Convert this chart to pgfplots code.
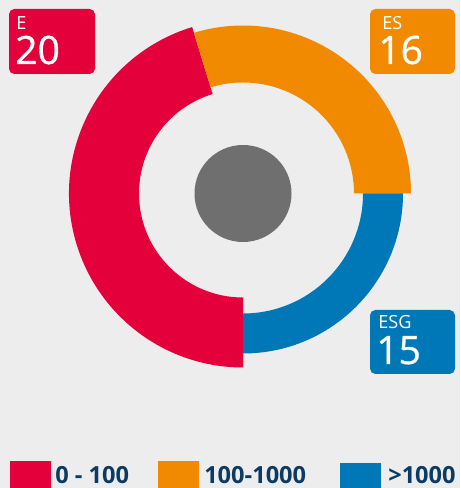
\documentclass[border=0pt]{standalone}
\usepackage{fontspec}
\setmainfont{Open Sans}
\usepackage{pgfplots}
\pgfplotsset{compat=1.18}
\definecolor{cE}{HTML}{E4003B}
\definecolor{cES}{HTML}{F18A00}
\definecolor{cESG}{HTML}{0078B8}
\definecolor{cHub}{HTML}{6F6F6F}
\definecolor{cBg}{HTML}{EDEDED}
\definecolor{cInk}{HTML}{0B3B62}

% one axis unit = one pixel of the reference
\def\px{0.75pt}
% ring segment: start angle, end angle, inner radius, outer radius, colour
\newcommand\ring[5]{%
  \fill[#5] (axis cs:243,294.5) ++(#1:{#4*\px})
    arc[start angle=#1, end angle=#2, radius={#4*\px}]
    -- ++({#2+180}:{(#4-#3)*\px})
    arc[start angle=#2, end angle=#1, radius={#3*\px}] -- cycle;}

\begin{document}
\begin{tikzpicture}
\begin{axis}[
  x=\px, y=\px,
  xmin=0, xmax=460, ymin=0, ymax=488,
  hide axis, clip=false,
]
\fill[cBg] (axis cs:0,0) rectangle (axis cs:460,488);

% segments (degrees): E 107..270, ES 0..107, ESG -90..0
\ring{107}{270}{104}{174}{cE}
\ring{0}{107}{111}{168}{cES}
\ring{-90}{0}{120}{160}{cESG}
\fill[cHub] (axis cs:243,294.5) circle[radius={48.5*\px}];

% value tags
\fill[cE, rounded corners=4pt] (axis cs:9,414) rectangle (axis cs:95,479);
\fill[cES, rounded corners=4pt] (axis cs:370,414) rectangle (axis cs:455,479);
\fill[cESG, rounded corners=4pt] (axis cs:370,114) rectangle (axis cs:455,178);
\begin{scope}[every node/.style={anchor=base west, inner sep=0pt, text=white}]
  \node[font=\fontsize{13.6}{14}\selectfont] at (axis cs:16,458.7) {E};
  \node[font=\fontsize{29.3}{30}\selectfont\addfontfeatures{FakeBold=0.8}] at (axis cs:15,424) {20};
  \node[font=\fontsize{13.6}{14}\selectfont] at (axis cs:382,458.7) {ES};
  \node[font=\fontsize{29.3}{30}\selectfont\addfontfeatures{FakeBold=0.8}] at (axis cs:378,424) {16};
  \node[font=\fontsize{13.6}{14}\selectfont] at (axis cs:378,159.7) {ESG};
  \node[font=\fontsize{29.3}{30}\selectfont\addfontfeatures{FakeBold=0.8}] at (axis cs:376,124) {15};
\end{scope}

% legend
\fill[cE] (axis cs:10,0) rectangle (axis cs:51,27);
\fill[cES] (axis cs:158,0) rectangle (axis cs:199,27);
\fill[cESG] (axis cs:340,0) rectangle (axis cs:381,25);
\begin{scope}[every node/.style={anchor=base west, inner sep=0pt, text=cInk,
    font=\bfseries\fontsize{17.7}{18}\selectfont}]
  \node at (axis cs:55,4) {0 - 100};
  \node at (axis cs:204,4) {100-1000};
  \node at (axis cs:388,4) {>1000};
\end{scope}
\end{axis}
\end{tikzpicture}
\end{document}
